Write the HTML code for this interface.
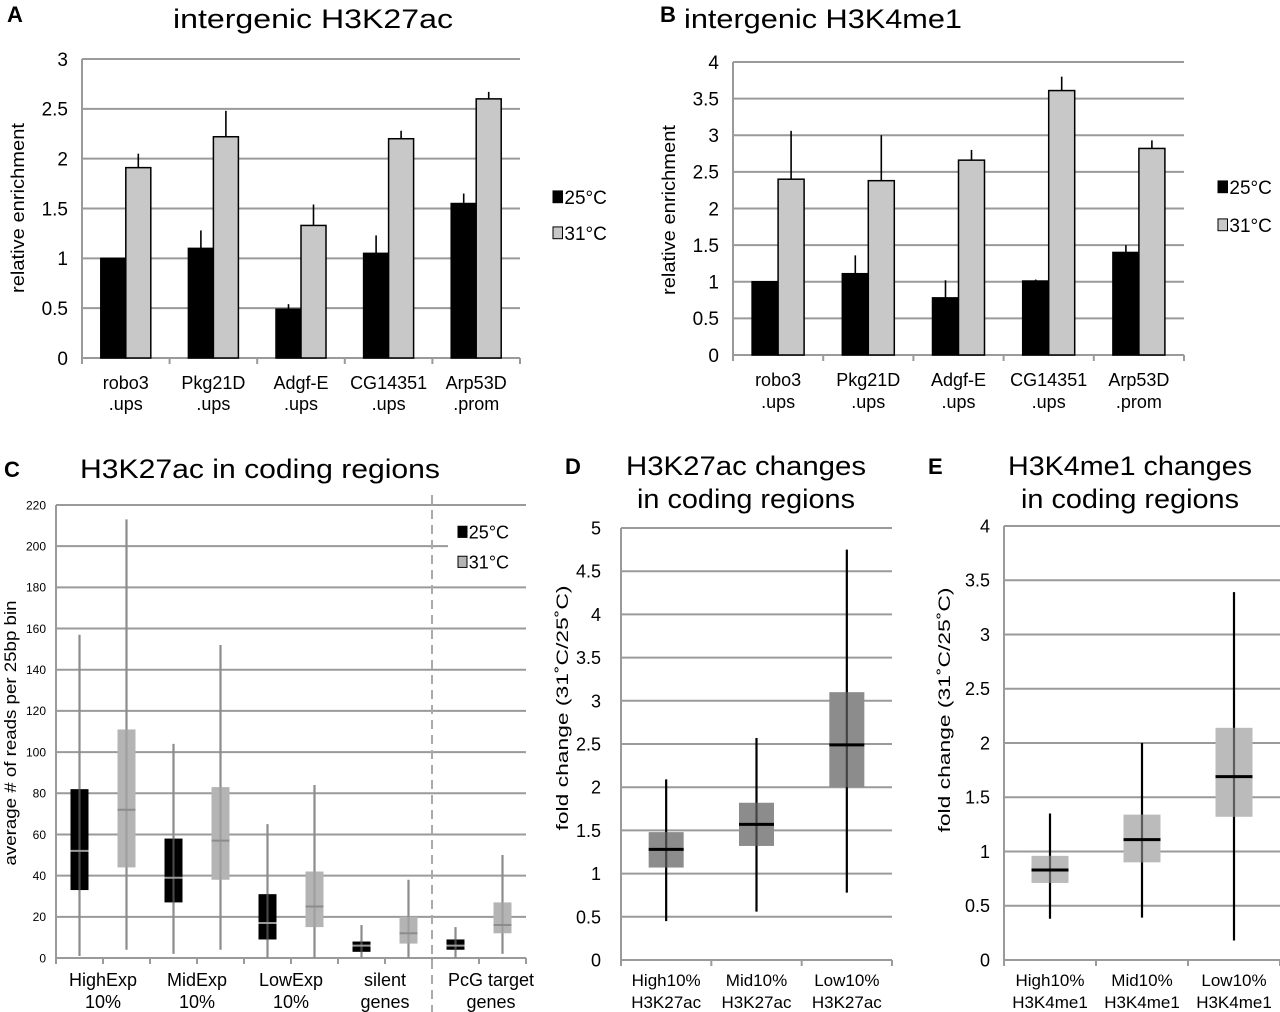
<!DOCTYPE html>
<html><head><meta charset="utf-8"><style>
html,body{margin:0;padding:0;background:#fff;}
svg{display:block;font-family:"Liberation Sans",Arial,sans-serif;}
</style></head><body>
<svg id="fig" width="1280" height="1012" viewBox="0 0 1280 1012" xmlns="http://www.w3.org/2000/svg">
<g font-weight="bold" font-size="22">
<text x="7" y="22">A</text>
<text x="660" y="22">B</text>
<text x="4" y="477">C</text>
<text x="565" y="474">D</text>
<text x="928" y="474">E</text>
</g>
<g font-size="27" text-anchor="middle">
<text x="313" y="28" textLength="280" lengthAdjust="spacingAndGlyphs">intergenic H3K27ac</text>
<text x="823" y="28" textLength="278" lengthAdjust="spacingAndGlyphs">intergenic H3K4me1</text>
<text x="260" y="478" textLength="360" lengthAdjust="spacingAndGlyphs">H3K27ac in coding regions</text>
<text x="746" y="475" textLength="240" lengthAdjust="spacingAndGlyphs">H3K27ac changes</text>
<text x="746" y="508" textLength="218" lengthAdjust="spacingAndGlyphs">in coding regions</text>
<text x="1130" y="475" textLength="244" lengthAdjust="spacingAndGlyphs">H3K4me1 changes</text>
<text x="1130" y="508" textLength="218" lengthAdjust="spacingAndGlyphs">in coding regions</text>
</g>
<g id="charts"></g>
</svg>
<script>
// ---- Panel A data ----
const catsA = [["robo3",".ups"],["Pkg21D",".ups"],["Adgf-E",".ups"],["CG14351",".ups"],["Arp53D",".prom"]];
const a25 = [1, 1.1, 0.49, 1.05, 1.55];
const a25err = [0, 0.18, 0.05, 0.18, 0.1];
const a31 = [1.91, 2.22, 1.33, 2.2, 2.6];
const a31err = [0.14, 0.26, 0.21, 0.08, 0.07];
const ticksA = ["0","0.5","1","1.5","2","2.5","3"];
// ---- Panel B data ----
const catsB = [["robo3",".ups"],["Pkg21D",".ups"],["Adgf-E",".ups"],["CG14351",".ups"],["Arp53D",".prom"]];
const b25 = [1, 1.11, 0.78, 1.01, 1.4];
const b25err = [0, 0.25, 0.24, 0.02, 0.1];
const b31 = [2.4, 2.38, 2.66, 3.61, 2.82];
const b31err = [0.66, 0.62, 0.14, 0.19, 0.11];
const ticksB = ["0","0.5","1","1.5","2","2.5","3","3.5","4"];
// ---- Panel C data ----
const catsC = [["HighExp","10%"],["MidExp","10%"],["LowExp","10%"],["silent","genes"],["PcG target","genes"]];
const c25min = [1, 2, 0, 0, 0];
const c25q1 = [33, 27, 9, 3, 4];
const c25med = [52, 39, 17, 6, 6];
const c25q3 = [82, 58, 31, 8, 9];
const c25max = [157, 104, 65, 16, 15];
const c31min = [4, 4, 0, 0, 2];
const c31q1 = [44, 38, 15, 7, 12];
const c31med = [72, 57, 25, 12, 16];
const c31q3 = [111, 83, 42, 20, 27];
const c31max = [213, 152, 84, 38, 50];
const ticksC = ["0","20","40","60","80","100","120","140","160","180","200","220"];
// ---- Panel D data ----
const catsD = [["High10%","H3K27ac"],["Mid10%","H3K27ac"],["Low10%","H3K27ac"]];
const dMin = [0.45, 0.56, 0.78];
const dQ1 = [1.07, 1.32, 2.0];
const dMed = [1.28, 1.57, 2.49];
const dQ3 = [1.48, 1.82, 3.1];
const dMax = [2.09, 2.57, 4.75];
const ticksD = ["0","0.5","1","1.5","2","2.5","3","3.5","4","4.5","5"];
// ---- Panel E data ----
const catsE = [["High10%","H3K4me1"],["Mid10%","H3K4me1"],["Low10%","H3K4me1"]];
const eMin = [0.38, 0.39, 0.18];
const eQ1 = [0.71, 0.9, 1.32];
const eMed = [0.83, 1.11, 1.69];
const eQ3 = [0.96, 1.34, 2.14];
const eMax = [1.35, 2.0, 3.39];
const ticksE = ["0","0.5","1","1.5","2","2.5","3","3.5","4"];

const NS = "http://www.w3.org/2000/svg";
const root = document.getElementById("charts");
function mk(tag, parent, attrs){ const e=document.createElementNS(NS,tag); for(const k in attrs) e.setAttribute(k,attrs[k]); parent.appendChild(e); return e; }

function axes(g, o){
  const n=o.ticks.length-1;
  o.ticks.forEach((t,i)=>{
    const y=o.y0-(o.y0-o.y1)*i/n;
    if(i>0){
      const gl=mk("line",g,{x1:o.x0,x2:(o.gridEnd&&o.gridEnd[i])||o.x1,y1:y,y2:y,stroke:"#9a9a9a","stroke-width":2});
      
      
    }
    const tl=mk("text",g,{x:o.x0-o.lgap,y:y+o.fs*0.36,"font-size":o.fs,"text-anchor":"end"});
    tl.textContent=t;
    
    
  });
  const ya=mk("line",g,{x1:o.x0,x2:o.x0,y1:o.y1,y2:o.y0+6,stroke:"#9a9a9a","stroke-width":2});
  
  
  const xa=mk("line",g,{x1:o.x0,x2:o.x1,y1:o.y0,y2:o.y0,stroke:"#9a9a9a","stroke-width":2});
  
  
  for(let i=0;i<=o.nslots;i++){
    const x=o.x0+(o.x1-o.x0)*i/o.nslots;
    const tk=mk("line",g,{x1:x,x2:x,y1:o.y0,y2:o.y0+6,stroke:"#9a9a9a","stroke-width":2});
    
    
  }
}
function ylab(g,text,x,y,fs,len){
  const t=mk("text",g,{x:0,y:0,"font-size":fs,"text-anchor":"middle",transform:`translate(${x},${y}) rotate(-90)`,textLength:len,lengthAdjust:"spacingAndGlyphs"});
  t.textContent=text;
  
  
}
function catLabels(g,cats,xs,y1,y2,fs){
  cats.forEach((c,i)=>{
    [c[0],c[1]].forEach((s,j)=>{
      const t=mk("text",g,{x:xs[i],y:j?y2:y1,"font-size":fs,"text-anchor":"middle"});
      t.textContent=s;
      
      
    });
  });
}
function legend(g,x,y1,y2,fs,c2,name){
  const lg=mk("g",g,{});
  
  
  [[y1,"#000","25°C"],[y2,c2,"31°C"]].forEach(([y,c,s])=>{
    const r=mk("rect",lg,{x:x,y:y-fs*0.32,width:fs*0.5,height:fs*0.62,fill:c,stroke:"#000","stroke-width":1});
    
    
    const t=mk("text",lg,{x:x+fs*0.6,y:y+fs*0.36,"font-size":fs});
    t.textContent=s;
    
    
  });
}

function barChart(name,cats,v25,e25,v31,e31,ticks,o){
  const g=mk("g",root,{});
  
  
  axes(g,Object.assign({nslots:cats.length},o));
  const maxV=parseFloat(ticks[ticks.length-1]);
  const Y=v=>o.y0-(o.y0-o.y1)*v/maxV;
  const slot=(o.x1-o.x0)/cats.length;
  const centers=[];
  cats.forEach((c,i)=>{
    const cx=o.x0+slot*(i+0.5); centers.push(cx);
    [[v25[i],e25[i],"#000",cx-o.bw,"bar-25c"],[v31[i],e31[i],"#c8c8c8",cx,"bar-31c"]].forEach(([v,e,col,x,nm])=>{
      const ex=x+o.bw/2;
      if(e>0){
        const el=mk("line",g,{x1:ex,x2:ex,y1:Y(v),y2:Y(v+e),stroke:"#000","stroke-width":1.6});
        
        
      }
      const r=mk("rect",g,{x:x,y:Y(v),width:o.bw,height:o.y0-Y(v),fill:col,stroke:"#000","stroke-width":1.5});
      
      
    });
  });
  catLabels(g,cats,centers,o.ly1,o.ly2,o.cfs);
  return g;
}

function boxPlot(g,x,w,mn,q1,md,q3,mx,Y,boxCol,wCol,medCol,medW,wW,name){
  const wl=mk("line",g,{x1:x,x2:x,y1:Y(mn),y2:Y(mx),stroke:wCol,"stroke-width":wW});
  
  
  const r=mk("rect",g,{x:x-w/2,y:Y(q3),width:w,height:Y(q1)-Y(q3),fill:boxCol});
  
  
  const il=mk("line",g,{x1:x,x2:x,y1:Y(q3),y2:Y(q1),stroke:wCol,"stroke-width":wW,opacity:0.5});
  
  
  const ml=mk("line",g,{x1:x-w/2,x2:x+w/2,y1:Y(md),y2:Y(md),stroke:medCol,"stroke-width":medW});
  
  
}

// Panel A
const gA=barChart("chart-a",catsA,a25,a25err,a31,a31err,ticksA,{x0:82,x1:520,y0:358,y1:59,ticks:ticksA,fs:19,lgap:14,bw:25,ly1:389,ly2:410,cfs:18});
ylab(gA,"relative enrichment",24,208,18,170);
legend(gA,553,197,233,19,"#c8c8c8","legend-a");
// Panel B
const gB=barChart("chart-b",catsB,b25,b25err,b31,b31err,ticksB,{x0:733,x1:1184,y0:355,y1:62,ticks:ticksB,fs:19,lgap:14,bw:26,ly1:386,ly2:408,cfs:18});
ylab(gB,"relative enrichment",675,210,18,170);
legend(gB,1218,187,225,19,"#c8c8c8","legend-b");

// Panel C
(function(){
  const g=mk("g",root,{});
  
  
  const o={x0:56,x1:526,y0:958,y1:505,ticks:ticksC,fs:12,lgap:10,nslots:10,gridEnd:{10:448}};
  axes(g,o);
  const maxV=parseFloat(ticksC[ticksC.length-1]);
  const Y=v=>o.y0-(o.y0-o.y1)*v/maxV;
  const sub=(o.x1-o.x0)/10;
  const centers=[];
  catsC.forEach((c,i)=>{
    const xb=o.x0+sub*(2*i+0.5), xg=o.x0+sub*(2*i+1.5);
    centers.push((xb+xg)/2);
    boxPlot(g,xb,18,c25min[i],c25q1[i],c25med[i],c25q3[i],c25max[i],Y,"#000","#8c8c8c","#9a9a9a",2,2.2,"box-25c");
    boxPlot(g,xg,18,c31min[i],c31q1[i],c31med[i],c31q3[i],c31max[i],Y,"#b4b4b4","#8c8c8c","#8c8c8c",2,2.2,"box-31c");
  });
  centers[4]+=12;
  const dl=mk("line",g,{x1:432,x2:432,y1:495,y2:1012,stroke:"#aaa","stroke-width":2,"stroke-dasharray":"9,6"});
  
  
  catLabels(g,catsC,centers,986,1008,18);
  ylab(g,"average # of reads per 25bp bin",16,733,17,265);
  legend(g,458,532,562,18,"#b4b4b4","legend-c");
})();

function foldChart(name,cats,mn,q1,md,q3,mx,ticks,o,boxCol,ytitle){
  const g=mk("g",root,{});
  
  
  axes(g,Object.assign({nslots:cats.length},o));
  const maxV=parseFloat(ticks[ticks.length-1]);
  const Y=v=>o.y0-(o.y0-o.y1)*v/maxV;
  const slot=(o.x1-o.x0)/cats.length;
  const centers=[];
  cats.forEach((c,i)=>{
    const cx=o.x0+slot*(i+0.5); centers.push(cx);
    boxPlot(g,cx,o.bw,mn[i],q1[i],md[i],q3[i],mx[i],Y,boxCol,"#000","#000",3,2.2,"box-fold-change");
  });
  catLabels(g,cats,centers,986,1008,17);
  ylab(g,ytitle,o.tx,o.ty,17,o.tl);
}
foldChart("chart-d",catsD,dMin,dQ1,dMed,dQ3,dMax,ticksD,{x0:621,x1:892,y0:960,y1:528,ticks:ticksD,fs:18,lgap:20,bw:35,tx:568,ty:708,tl:245},"#8c8c8c","fold change (31˚C/25˚C)");
foldChart("chart-e",catsE,eMin,eQ1,eMed,eQ3,eMax,ticksE,{x0:1004,x1:1280,y0:960,y1:526,ticks:ticksE,fs:18,lgap:14,bw:37,tx:950,ty:710,tl:245},"#bbbbbb","fold change (31˚C/25˚C)");
</script>
</body></html>
